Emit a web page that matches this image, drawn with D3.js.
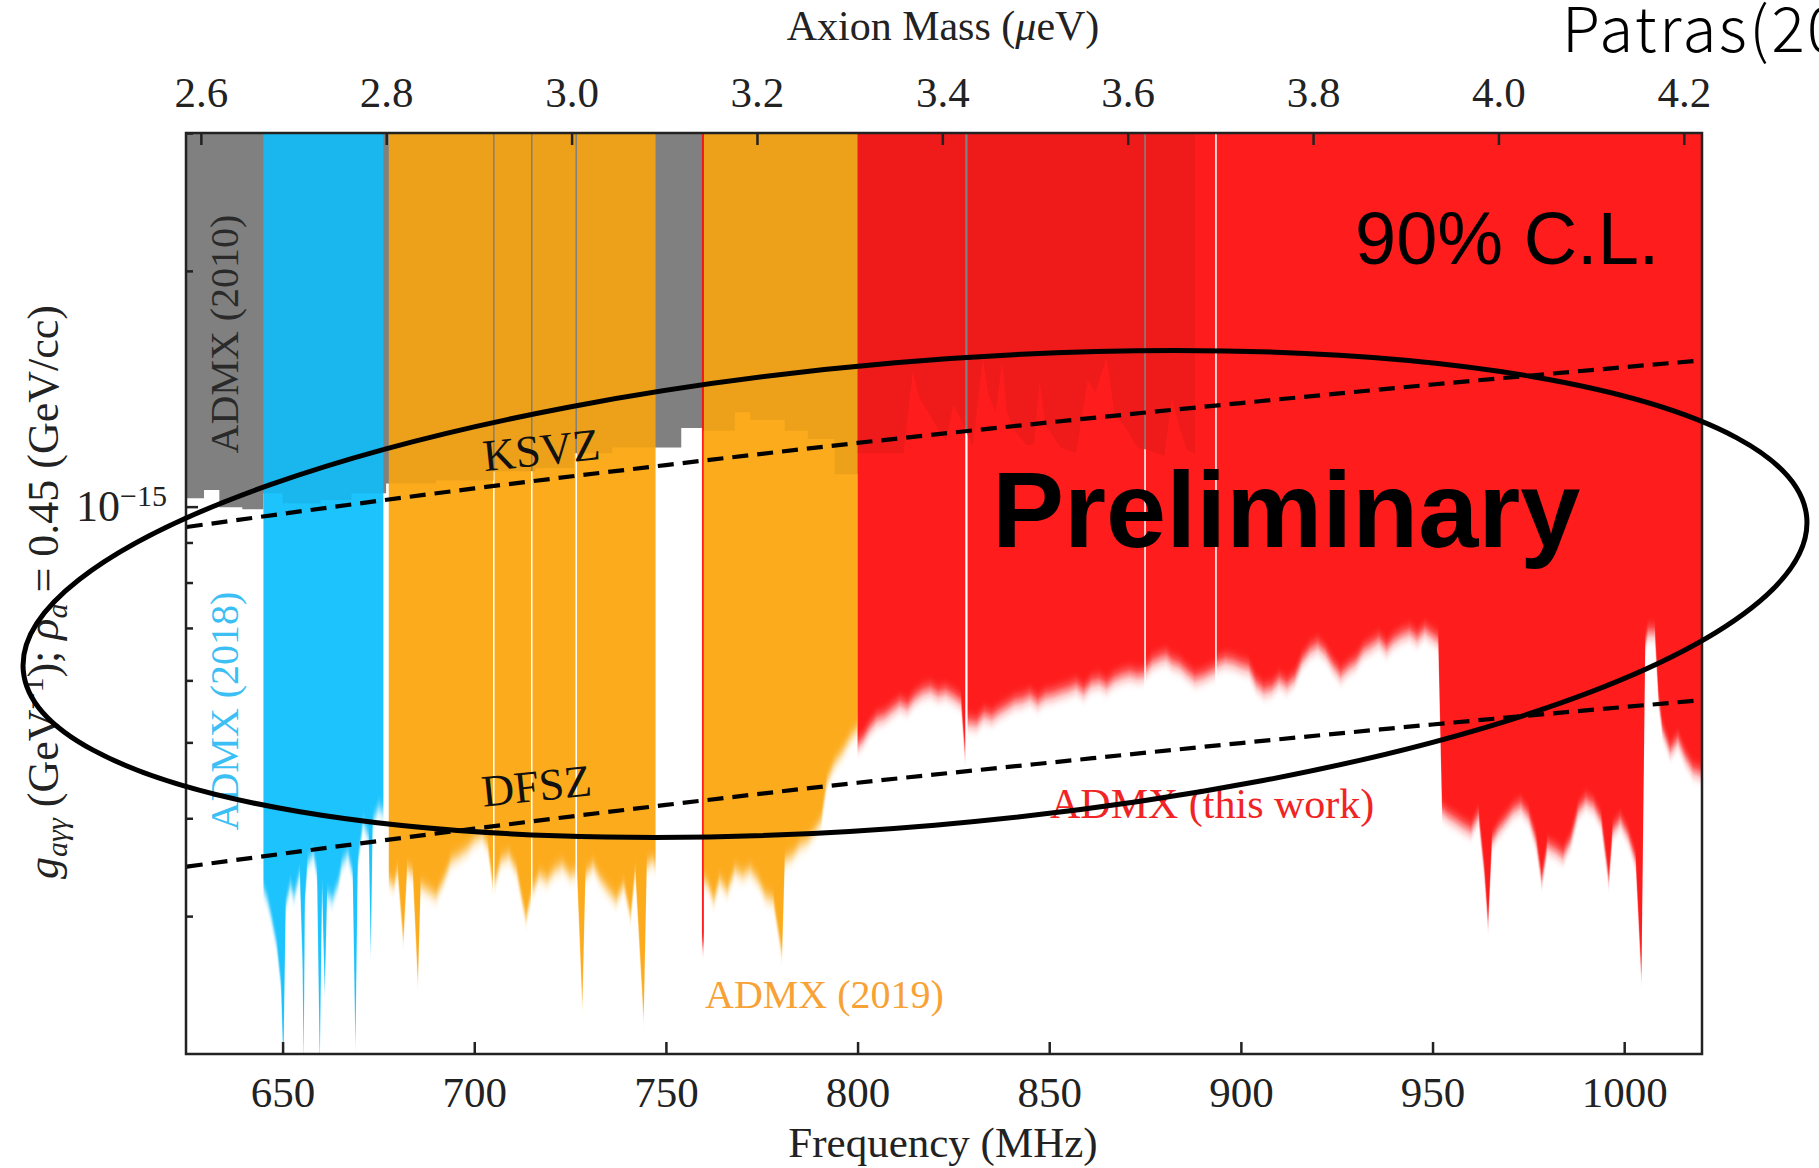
<!DOCTYPE html>
<html>
<head>
<meta charset="utf-8">
<script src="https://cdn.jsdelivr.net/npm/d3@7"></script>
<style>
  html, body { margin: 0; padding: 0; background: #fff; overflow: hidden; }
  svg text { font-family: "Liberation Serif", serif; fill: #222; }
</style>
</head>
<body>
<svg id="chart" width="1819" height="1168"></svg>
<script>
// coupling values are typed in units of 1e-16 GeV^-1
var UNIT = 1e-16;
var MHZ_TO_UEV = 4.135667e-3;

// ADMX 2010 limit (step bins, start frequency of each bin)
var admx2010Freq  = [625, 629.5, 633.5, 639.5, 645, 650, 660, 668, 677, 690, 705, 716, 726, 736, 747.3, 754, 759.7, 768, 772, 781, 787, 794, 800];
var admx2010Limit = [10.25, 10.5, 9.98, 9.92, 10.4, 10.1, 10.2, 10.4, 10.7, 10.8, 11.1, 11.2, 11.7, 11.9, 11.9, 12.6, 12.5, 13.2, 12.9, 12.5, 12.2, 11.0, 11.0];

// older limit over 800-888 MHz (the darker red part)
var earlyFreq  = [800, 812, 814.4, 816, 820, 823, 825, 828, 830, 832.7, 834, 836, 837.7, 839, 841, 844, 846, 847.5, 849, 851, 853, 857, 860, 862, 865, 867, 870, 873, 876, 880, 882, 884, 886, 888];
var earlyLimit = [11.7, 11.7, 14.9, 13.8, 12.8, 12.1, 13.5, 12.6, 11.9, 15.5, 14.0, 13.2, 15.3, 13.2, 12.5, 12.0, 12.0, 14.5, 12.7, 12.3, 11.9, 11.7, 14.5, 14.0, 15.5, 13.2, 12.6, 11.9, 11.8, 11.6, 13.8, 12.6, 11.8, 11.7];

// ADMX 2018
var admx2018Freq  = [645.0, 646.0, 647.0, 648.5, 649.6, 650.2, 650.8, 652.0, 653.0, 654.5, 655.2, 655.5, 655.8, 656.5, 658.0, 659.0, 659.7, 660.3, 661.0, 661.6, 663.0, 664.5, 665.5, 667.0, 668.3, 669.0, 669.6, 671.0, 672.5, 673.0, 673.5, 675.0, 676.3];
var admx2018Limit = [3.25, 3.15, 3.00, 2.75, 2.45, 1.95, 3.10, 3.28, 3.18, 3.40, 2.63, 1.95, 3.14, 3.50, 3.60, 3.40, 1.95, 3.30, 2.40, 3.20, 3.15, 3.30, 3.50, 3.60, 3.40, 2.05, 3.50, 3.95, 3.78, 2.68, 3.95, 4.12, 4.07];

// ADMX 2019 (null = gap in the data)
var admx2019Freq  = [677.7, 679, 680, 681.5, 682.5, 684, 685.3, 686, 688, 690, 692, 694, 696, 698, 700, 702, 703.5, 704.9, 705.1, 705.3, 707, 709, 711, 712.5, 713.5, 714.8, 715.0, 715.2, 717, 719, 721, 723, 725, 726.4, 726.6, 726.8, 728.2, 729, 731, 733, 735, 737, 739, 740.8, 742, 744.2, 745, 746.5, 747.3, 753,
                     759.9, 761, 762.5, 764, 766, 768, 770, 772, 774, 776, 778, 780.3, 781, 783, 785, 787, 789, 790.5, 792, 794, 796, 798, 800];
var admx2019Limit = [3.33, 3.28, 3.43, 2.79, 3.45, 3.39, 2.47, 3.28, 3.23, 3.18, 3.33, 3.53, 3.58, 3.64, 3.74, 3.80, 3.69, 3.28, null, 3.30, 3.53, 3.58, 3.43, 3.14, 2.98, 3.18, null, 3.23, 3.38, 3.33, 3.43, 3.48, 3.38, 3.40, null, 3.43, 2.31, 3.38, 3.48, 3.33, 3.23, 3.14, 3.28, 3.00, 3.43, 2.22, 3.48, 3.53, 3.48, null,
                     3.33, 3.28, 3.14, 3.33, 3.23, 3.43, 3.38, 3.43, 3.33, 3.18, 3.14, 2.68, 3.53, 3.58, 3.69, 3.74, 3.86, 3.97, 4.45, 4.70, 4.85, 5.05, 5.20];

// ADMX this work
var thisWorkFreq  = [759.4, 759.9, 780,
                     800, 801.5, 803, 805, 807, 809, 811, 813, 815, 817, 819, 821, 823, 825, 827, 828.1, 828.4, 828.7, 831, 833, 835, 837, 839, 841, 843, 845, 847, 849, 851, 853, 855, 857, 859, 861, 863, 865, 867, 869, 871, 873, 874.8, 875.0, 875.2, 877, 879, 880.5, 882, 884, 886, 888, 890, 893.3, 893.5, 893.7,
                     896, 898, 900, 902, 904, 906, 908, 910, 912, 914, 916, 918, 920, 922, 924, 926, 928, 930, 932, 934, 936, 938, 940, 942, 944, 946, 948, 950, 951.5, 952.5, 954, 956, 958, 960, 962, 963.5, 964.5, 965.5, 967, 969, 971, 973, 975, 977, 978.5, 980, 982, 984, 986, 988, 990, 992, 994, 996, 997, 999, 1001, 1003, 1004.5, 1005.5, 1006.2, 1008, 1009, 1010, 1012, 1014, 1016, 1018, 1020.5];
var thisWorkLimit = [2.76, 2.76, null,
                     4.95, 5.05, 5.20, 5.35, 5.40, 5.50, 5.60, 5.55, 5.70, 5.80, 5.84, 5.76, 5.80, 5.72, 5.63, 4.78, null, 5.30, 5.28, 5.42, 5.38, 5.47, 5.55, 5.63, 5.66, 5.72, 5.62, 5.72, 5.75, 5.80, 5.84, 5.90, 5.80, 5.95, 5.98, 5.90, 6.02, 6.08, 6.12, 6.08, 6.10, null, 6.18, 6.33, 6.40, 6.43, 6.33, 6.27, 6.14, 6.03, 6.07, 6.18, null, 6.29,
                     6.36, 6.33, 6.27, 6.22, 5.94, 5.82, 5.86, 6.00, 5.91, 6.03, 6.36, 6.55, 6.65, 6.51, 6.27, 6.09, 6.22, 6.33, 6.55, 6.65, 6.75, 6.59, 6.75, 6.85, 6.91, 6.79, 6.95, 6.83, 6.75, 4.09, 4.03, 3.97, 3.91, 3.86, 4.03, 3.43, 2.93, 3.74, 3.86, 3.97, 4.09, 4.15, 4.03, 3.74, 3.33, 3.69, 3.64, 3.58, 3.74, 4.09, 4.21, 4.15, 3.97, 3.33, 3.86, 3.97, 3.80, 3.53, 2.50, 6.70, 6.90, 6.90, 5.65, 5.18, 4.88, 5.03, 4.78, 4.60, 4.55];

// benchmark model lines
var modelFreq = [625, 700, 750, 800, 850, 900, 950, 1020];
var ksvzG     = [9.42, 10.55, 11.30, 12.06, 12.81, 13.56, 14.32, 15.37];
var dfszG     = [3.47, 3.88, 4.16, 4.44, 4.71, 4.99, 5.27, 5.66];

// ticks
var freqTicks = [650, 700, 750, 800, 850, 900, 950, 1000];
var massTicks = [2.6, 2.8, 3.0, 3.2, 3.4, 3.6, 3.8, 4.0, 4.2];
var gMinorTicks = [3e-16, 4e-16, 5e-16, 6e-16, 7e-16, 8e-16, 9e-16, 2e-15, 3e-15];
var gMajorTicks = [1e-15];

var plotLeft = 186, plotRight = 1702, plotTop = 133, plotBottom = 1054;

var svg = d3.select("#chart");
var x = d3.scaleLinear().domain([624.8, 1020.3]).range([plotLeft, plotRight]);
var xm = d3.scaleLinear().domain([624.8 * MHZ_TO_UEV, 1020.3 * MHZ_TO_UEV]).range([plotLeft, plotRight]);
var y = d3.scaleLog().domain([2e-16, 3e-15]).range([plotBottom, plotTop]);

function series(freqs, limits) {
  return freqs.map(function(f, i) {
    return {f: f, g: limits[i] == null ? null : limits[i] * UNIT};
  });
}

var defs = svg.append("defs");
defs.append("clipPath").attr("id", "plotClip")
  .append("rect").attr("x", plotLeft).attr("y", plotTop)
  .attr("width", plotRight - plotLeft).attr("height", plotBottom - plotTop);
defs.append("filter").attr("id", "soft")
  .attr("x", "-0.02").attr("y", "-0.3").attr("width", "1.04").attr("height", "1.6")
  .append("feGaussianBlur").attr("stdDeviation", "0 7");

var skyTop = y(4.5e-15);

var areaStep = d3.area().curve(d3.curveStepAfter)
  .x(function(d) { return x(d.f); }).y0(skyTop).y1(function(d) { return y(d.g); });
var areaLin = d3.area()
  .defined(function(d) { return d.g != null; })
  .x(function(d) { return x(d.f); }).y0(skyTop).y1(function(d) { return y(d.g); });

var admx2010 = series(admx2010Freq, admx2010Limit);
var early = series(earlyFreq, earlyLimit);

var plot = svg.append("g").attr("clip-path", "url(#plotClip)");

// grey older exclusion underneath
plot.append("path").datum(admx2010).attr("d", areaStep).attr("fill", "#888888");
plot.append("path").datum(early).attr("d", areaLin).attr("fill", "#888888");

plot.append("path").datum(series(admx2018Freq, admx2018Limit)).attr("d", areaLin)
  .attr("fill", "#1cc3fd").attr("filter", "url(#soft)");
plot.append("path").datum(series(admx2019Freq, admx2019Limit)).attr("d", areaLin)
  .attr("fill", "#fcab1e").attr("filter", "url(#soft)");
plot.append("path").datum(series(thisWorkFreq, thisWorkLimit)).attr("d", areaLin)
  .attr("fill", "#fe1c1c").attr("filter", "url(#soft)");

// overlap with older limit is slightly darker
plot.append("path").datum(admx2010).attr("d", areaStep).attr("fill", "#000").attr("fill-opacity", 0.06);
plot.append("path").datum(early).attr("d", areaLin).attr("fill", "#000").attr("fill-opacity", 0.06);

var modelLine = d3.line().curve(d3.curveMonotoneX)
  .x(function(d) { return x(d.f); }).y(function(d) { return y(d.g); });
[ksvzG, dfszG].forEach(function(vals) {
  plot.append("path").datum(series(modelFreq, vals)).attr("d", modelLine)
    .attr("fill", "none").attr("stroke", "#000").attr("stroke-width", 4.2)
    .attr("stroke-dasharray", "16,9");
});

// in-plot labels
svg.append("text").attr("transform", "translate(238,334) rotate(-90)")
  .attr("text-anchor", "middle").attr("font-size", 40).style("fill", "#2a2a2a").text("ADMX (2010)");
svg.append("text").attr("transform", "translate(238,711) rotate(-90)")
  .attr("text-anchor", "middle").attr("font-size", 40).style("fill", "#3cbff5").text("ADMX (2018)");
svg.append("text").attr("x", 705).attr("y", 1008)
  .attr("font-size", 40).style("fill", "#f8a236").text("ADMX (2019)");
svg.append("text").attr("x", 1050).attr("y", 818)
  .attr("font-size", 42).style("fill", "#f02424").text("ADMX (this work)");
svg.append("text").attr("transform", "translate(543,465) rotate(-6)")
  .attr("text-anchor", "middle").attr("font-size", 45).style("fill", "#111").text("KSVZ");
svg.append("text").attr("transform", "translate(538,801) rotate(-6)")
  .attr("text-anchor", "middle").attr("font-size", 45).style("fill", "#111").text("DFSZ");

svg.append("text").attr("x", 1355).attr("y", 264)
  .style("font-family", "'Liberation Sans', Arial, sans-serif").style("fill", "#000")
  .attr("font-size", 74).text("90% C.L.");
svg.append("text").attr("x", 992).attr("y", 547)
  .style("font-family", "'Liberation Sans', Arial, sans-serif").style("fill", "#000")
  .attr("font-size", 108).attr("font-weight", "bold").text("Preliminary");

// axes
function styleAxis(g) {
  g.select(".domain").remove();
  g.selectAll(".tick line").attr("stroke", "#222").attr("stroke-width", 2.5);
  g.selectAll(".tick text").attr("font-size", 43).attr("font-family", null).style("fill", "#222");
}

svg.append("g").attr("transform", "translate(0," + plotBottom + ")")
  .call(d3.axisBottom(x).tickValues(freqTicks).tickSizeInner(-12).tickSizeOuter(0)
    .tickPadding(22).tickFormat(d3.format("d")))
  .call(styleAxis);

svg.append("g").attr("transform", "translate(0," + plotTop + ")")
  .call(d3.axisTop(xm).tickValues(massTicks).tickSizeInner(-12).tickSizeOuter(0)
    .tickPadding(26).tickFormat(d3.format(".1f")))
  .call(styleAxis);

svg.append("g").attr("transform", "translate(" + plotLeft + ",0)")
  .call(d3.axisLeft(y).tickValues(gMinorTicks).tickSizeInner(-7).tickSizeOuter(0).tickFormat(""))
  .call(styleAxis);

var yMajor = svg.append("g").attr("transform", "translate(" + plotLeft + ",0)")
  .call(d3.axisLeft(y).tickValues(gMajorTicks).tickSizeInner(-12).tickSizeOuter(0)
    .tickPadding(19).tickFormat(function() { return "10"; }))
  .call(styleAxis);
yMajor.selectAll(".tick text").attr("font-size", 44)
  .append("tspan").attr("dy", "-0.5em").attr("font-size", 30).text("\u221215");

svg.append("rect").attr("x", plotLeft).attr("y", plotTop)
  .attr("width", plotRight - plotLeft).attr("height", plotBottom - plotTop)
  .attr("fill", "none").attr("stroke", "#222").attr("stroke-width", 2.5);

// axis titles
svg.append("text").attr("x", 943).attr("y", 1157).attr("text-anchor", "middle")
  .attr("font-size", 43).text("Frequency (MHz)");

var massTitle = svg.append("text").attr("x", 943).attr("y", 40).attr("text-anchor", "middle")
  .attr("font-size", 42);
massTitle.append("tspan").text("Axion Mass (");
massTitle.append("tspan").attr("font-style", "italic").text("\u03bc");
massTitle.append("tspan").text("eV)");

var yTitle = svg.append("text").attr("transform", "translate(58,592) rotate(-90)")
  .attr("text-anchor", "middle").attr("font-size", 44);
yTitle.append("tspan").attr("font-style", "italic").text("g");
yTitle.append("tspan").attr("font-style", "italic").attr("font-size", 30).attr("dy", 9).text("a\u03b3\u03b3");
yTitle.append("tspan").attr("dy", -9).text(" (GeV");
yTitle.append("tspan").attr("font-size", 30).attr("dy", -15).text("\u22121");
yTitle.append("tspan").attr("dy", 15).text("); ");
yTitle.append("tspan").attr("font-style", "italic").text("\u03c1");
yTitle.append("tspan").attr("font-style", "italic").attr("font-size", 30).attr("dy", 9).text("a");
yTitle.append("tspan").attr("dy", -9).text(" = 0.45 (GeV/cc)");

// hand-drawn highlight
svg.append("ellipse").attr("cx", 915).attr("cy", 594).attr("rx", 895).attr("ry", 232)
  .attr("transform", "rotate(-4.9 915 594)")
  .attr("fill", "none").attr("stroke", "#000").attr("stroke-width", 5);

svg.append("text").attr("x", 1562).attr("y", 52)
  .style("font-family", "'Noto Sans CJK JP', 'Noto Sans', sans-serif").style("fill", "#000")
  .style("letter-spacing", "2.5px")
  .attr("font-weight", 300).attr("font-size", 62).text("Patras(2019)");
</script>
</body>
</html>
